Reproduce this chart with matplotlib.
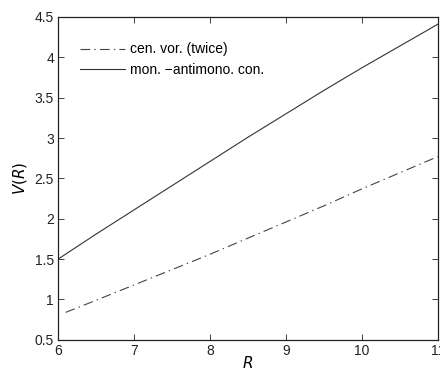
import matplotlib
matplotlib.use('Agg')
import matplotlib.pyplot as plt

plt.rcParams['font.family'] = ['Liberation Sans', 'DejaVu Sans']
plt.rcParams['lines.scale_dashes'] = False

# values
r_mon = [6.0, 6.5, 7.0, 7.5, 8.0, 8.5, 9.0, 9.5, 10.0, 10.5, 11.0]
v_mon = [1.50, 1.81, 2.11, 2.41, 2.71, 3.01, 3.30, 3.59, 3.87, 4.14, 4.41]
r_cen = [6.1, 6.5, 7.0, 7.5, 8.0, 8.5, 9.0, 9.5, 10.0, 10.5, 11.0]
v_cen = [0.84, 0.99, 1.18, 1.37, 1.56, 1.76, 1.96, 2.16, 2.37, 2.57, 2.77]

fig = plt.figure(figsize=(4.4, 3.69), dpi=100)
ax = fig.add_axes([0.132, 0.079, 0.863, 0.875])

ax.plot(r_cen, v_cen, color='#444444', lw=0.8, dashes=(7, 3, 1, 3),
        label='cen. vor. (twice)')
ax.plot(r_mon, v_mon, color='#333333', lw=0.8, label='mon. \u2212antimono. con.')

ax.set_xlim(6, 11)
ax.set_ylim(0.5, 4.5)
ax.set_xticks([6, 7, 8, 9, 10, 11])
ax.set_yticks([0.5, 1, 1.5, 2, 2.5, 3, 3.5, 4, 4.5])
ax.set_yticklabels(['0.5', '1', '1.5', '2', '2.5', '3', '3.5', '4', '4.5'])
ax.tick_params(direction='in', top=True, right=True, length=4, width=0.6,
               labelsize=10, colors='#222222', pad=3)
for s in ax.spines.values():
    s.set_linewidth(0.9)
    s.set_color('#222222')

ax.set_xlabel('$R$', fontsize=11, labelpad=-2)
ax.set_ylabel('$V(R)$', fontsize=11, labelpad=4)

ax.legend(loc='upper left', bbox_to_anchor=(0.025, 0.96), frameon=False,
          fontsize=10, handlelength=3.2, handletextpad=0.4, labelspacing=0.5)

fig.savefig('out.png', dpi=100)
